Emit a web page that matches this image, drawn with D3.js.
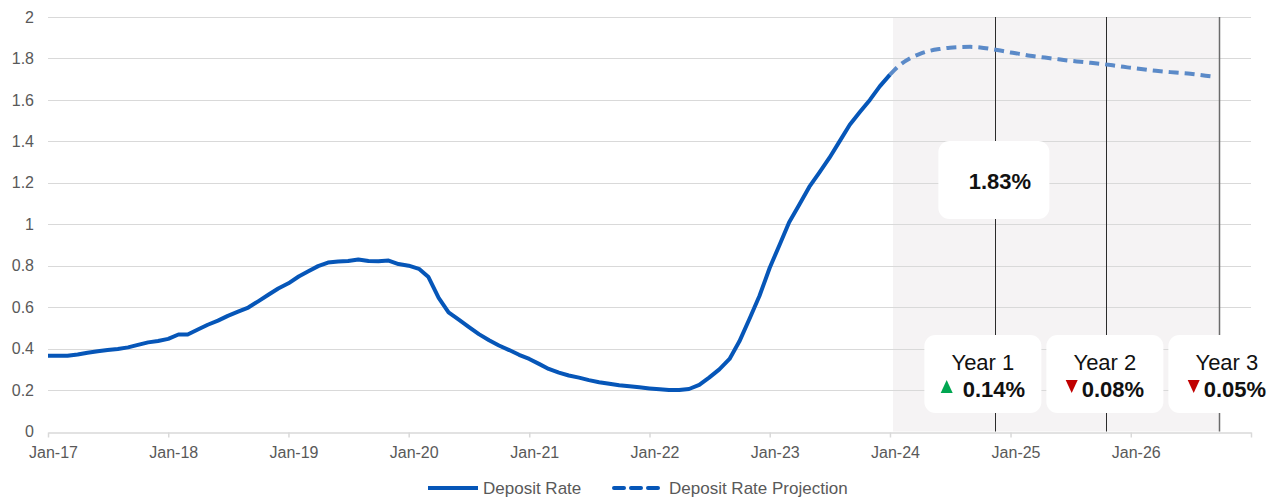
<!DOCTYPE html>
<html>
<head>
<meta charset="utf-8">
<script src="https://cdn.jsdelivr.net/npm/d3@7"></script>
<style>
  html, body { margin: 0; padding: 0; background: #fff; }
  svg { display: block; font-family: "Liberation Sans", Arial, Helvetica, sans-serif; }
</style>
</head>
<body>
<svg id="chart" width="1282" height="502"></svg>
<script>
// Monthly deposit rate (%), Jan 2017 – Jan 2024
const depositStart = "2017-01-01";
const depositRate = [
  0.366, 0.366, 0.365, 0.372, 0.380, 0.387, 0.393, 0.398, 0.406, 0.418, 0.430, 0.437,
  0.447, 0.468, 0.468, 0.492, 0.515, 0.535, 0.558, 0.578, 0.598, 0.628, 0.660, 0.690,
  0.715, 0.748, 0.772, 0.798, 0.815, 0.820, 0.823, 0.830, 0.823, 0.822, 0.825, 0.808,
  0.800, 0.785, 0.745, 0.645, 0.575, 0.540, 0.505, 0.470, 0.440, 0.415, 0.393, 0.370,
  0.350, 0.325, 0.302, 0.284, 0.270, 0.260, 0.248, 0.238, 0.230, 0.223, 0.218, 0.213,
  0.208, 0.204, 0.200, 0.200, 0.205, 0.225, 0.260, 0.300, 0.350, 0.435, 0.545, 0.655,
  0.790, 0.905, 1.010, 1.095, 1.180, 1.250, 1.320, 1.400, 1.480, 1.540, 1.600, 1.665,
  1.722
];

// Monthly projection (%), Jan 2024 – Sep 2026
const projectionStart = "2024-01-01";
const depositProjection = [
  1.722, 1.770, 1.800, 1.822, 1.837, 1.846, 1.852, 1.855, 1.856, 1.853, 1.846, 1.838,
  1.829, 1.821, 1.813, 1.807, 1.801, 1.795, 1.789, 1.784, 1.779, 1.774, 1.768, 1.761,
  1.755, 1.749, 1.743, 1.738, 1.734, 1.730, 1.726, 1.720, 1.714
];

// Axis ticks
const xTickDates = ["2017-01-01","2018-01-01","2019-01-01","2020-01-01","2021-01-01",
                    "2022-01-01","2023-01-01","2024-01-01","2025-01-01","2026-01-01"];
const xTickLabels = ["Jan-17","Jan-18","Jan-19","Jan-20","Jan-21",
                     "Jan-22","Jan-23","Jan-24","Jan-25","Jan-26"];
const yTicks = [0, 0.2, 0.4, 0.6, 0.8, 1, 1.2, 1.4, 1.6, 1.8, 2];

// Projection window and yearly checkpoints
const projectionWindow = ["2024-01-10", "2026-09-28"];
const yearMarkerDates = ["2024-11-16", "2025-10-19", "2026-09-26"];
const yearLabels = ["Year 1", "Year 2", "Year 3"];
const yearChanges = [0.14, -0.08, -0.05];
const headlineRate = 1.83;

const seriesNames = ["Deposit Rate", "Deposit Rate Projection"];

// ---------------------------------------------------------------
const parse = d3.utcParse("%Y-%m-%d");
const svg = d3.select("#chart");
const margin = { left: 48, right: 31, top: 17, bottom: 70.5 };
const W = 1282, H = 502;

const x = d3.scaleUtc()
  .domain([parse("2017-01-01"), parse("2027-01-01")])
  .range([margin.left, W - margin.right]);
const y = d3.scaleLinear()
  .domain([0, 2])
  .range([H - margin.bottom, margin.top]);

const actual = depositRate.map((v, i) => ({ date: d3.utcMonth.offset(parse(depositStart), i), value: v }));
const projected = depositProjection.map((v, i) => ({ date: d3.utcMonth.offset(parse(projectionStart), i), value: v }));

const textColor = "#595959";
const gridColor = "#d9d9d9";
const solidColor = "#0656b8";
const dashColor = "#5b8ac8";

// Projection shading
const [shadeA, shadeB] = projectionWindow.map(parse);
svg.append("rect")
  .attr("x", x(shadeA)).attr("y", y(2))
  .attr("width", x(shadeB) - x(shadeA))
  .attr("height", y(0) - y(2))
  .attr("fill", "#f5f3f4");

// Horizontal gridlines
svg.append("g")
  .selectAll("line")
  .data(yTicks.filter(d => d > 0))
  .join("line")
  .attr("x1", x.range()[0]).attr("x2", x.range()[1])
  .attr("y1", d => Math.round(y(d)) + 0.5).attr("y2", d => Math.round(y(d)) + 0.5)
  .attr("stroke", gridColor).attr("stroke-width", 1);

// Y axis labels
const yAxis = svg.append("g")
  .attr("transform", `translate(${margin.left},0)`)
  .call(d3.axisLeft(y).tickValues(yTicks).tickFormat(d3.format("~g")).tickSize(0).tickPadding(14));
yAxis.select(".domain").remove();
yAxis.selectAll("text")
  .attr("fill", textColor).attr("font-size", 16)
  .attr("font-family", '"Liberation Sans", Arial, sans-serif');

// X axis: labels sit in the middle of the first month of each year
const xAxis = svg.append("g")
  .attr("transform", `translate(0,${Math.round(y(0)) + 0.5})`)
  .call(d3.axisBottom(x)
    .tickValues(xTickDates.map(parse).concat([parse("2027-01-01")]))
    .tickFormat((d, i) => xTickLabels[i] || "")
    .tickSize(5).tickSizeOuter(0).tickPadding(9));
xAxis.select(".domain").attr("stroke", gridColor).attr("stroke-width", 1.5);
xAxis.selectAll(".tick line").attr("stroke", gridColor).attr("stroke-width", 1.5);
xAxis.selectAll("text")
  .attr("dx", 5)
  .attr("fill", textColor).attr("font-size", 16)
  .attr("font-family", '"Liberation Sans", Arial, sans-serif');

// Year checkpoint lines
svg.append("g")
  .selectAll("line")
  .data(yearMarkerDates.map(parse))
  .join("line")
  .attr("x1", d => Math.round(x(d)) + 0.5).attr("x2", d => Math.round(x(d)) + 0.5)
  .attr("y1", y(2)).attr("y2", y(0))
  .attr("stroke", (d, i) => i === 2 ? "#6b6b6b" : "#2b2b2b")
  .attr("stroke-width", (d, i) => i === 2 ? 1.5 : 1);

// Series lines
const lineActual = d3.line()
  .x(d => x(d.date)).y(d => y(d.value))
  .curve(d3.curveLinear);
const lineProjection = d3.line()
  .x(d => x(d.date)).y(d => y(d.value))
  .curve(d3.curveMonotoneX);

svg.append("path")
  .datum(actual)
  .attr("d", lineActual)
  .attr("fill", "none")
  .attr("stroke", solidColor)
  .attr("stroke-width", 4)
  .attr("stroke-linejoin", "round");

svg.append("path")
  .datum(projected)
  .attr("d", lineProjection)
  .attr("fill", "none")
  .attr("stroke", dashColor)
  .attr("stroke-width", 4)
  .attr("stroke-dasharray", "10 6");

// Headline callout
const mk = yearMarkerDates.map(d => x(parse(d)));
const head = svg.append("g");
const headX = mk[0] - 57, headW = 111;
head.append("rect")
  .attr("x", headX).attr("y", 141)
  .attr("width", headW).attr("height", 78)
  .attr("rx", 11).attr("fill", "#fff");
head.append("text")
  .attr("x", headX + headW / 2 + 6).attr("y", 188.5)
  .attr("text-anchor", "middle")
  .attr("font-size", 22).attr("font-weight", "bold").attr("fill", "#111")
  .text(d3.format(".2f")(headlineRate) + "%");

// Yearly change cards
const cardW = 117, cardH = 78, cardGap = 5, cardY = 335;
const cardX0 = mk[0] - 71;
const cards = svg.append("g")
  .selectAll("g")
  .data(yearLabels.map((label, i) => ({ label, change: yearChanges[i], i })))
  .join("g")
  .attr("transform", d => `translate(${cardX0 + d.i * (cardW + cardGap)},${cardY})`);

cards.append("rect")
  .attr("width", cardW).attr("height", cardH)
  .attr("rx", 11).attr("fill", "#fff");

cards.append("text")
  .attr("x", cardW / 2).attr("y", 34.5)
  .attr("text-anchor", "middle")
  .attr("font-size", 22).attr("fill", "#111")
  .text(d => d.label);

cards.each(function (d) {
  const g = d3.select(this);
  const up = d.change > 0;
  const label = g.append("text")
    .attr("y", 62)
    .attr("font-size", 22).attr("font-weight", "bold").attr("fill", "#111")
    .text(d3.format(".2f")(Math.abs(d.change)) + "%");
  const tw = label.node().getComputedTextLength();
  const triW = 12, gap = up ? 10 : 4;
  const total = triW + gap + tw;
  const left = cardW / 2 - total / 2;
  label.attr("x", left + triW + gap);
  const ty = 45, th = 13;
  const pts = up
    ? [[left, ty + th], [left + triW, ty + th], [left + triW / 2, ty]]
    : [[left, ty], [left + triW, ty], [left + triW / 2, ty + th]];
  g.append("path")
    .attr("d", d3.line()(pts) + "Z")
    .attr("fill", up ? "#00a651" : "#c00000");
});

// Legend
const legend = svg.append("g").attr("transform", "translate(0,488)");
legend.append("line")
  .attr("x1", 428).attr("x2", 478).attr("y1", 0).attr("y2", 0)
  .attr("stroke", solidColor).attr("stroke-width", 4);
legend.append("text")
  .attr("x", 483).attr("y", 5.5)
  .attr("font-size", 17).attr("fill", textColor)
  .text(seriesNames[0]);
legend.append("line")
  .attr("x1", 614).attr("x2", 658).attr("y1", 0).attr("y2", 0)
  .attr("stroke", solidColor).attr("stroke-width", 4)
  .attr("stroke-dasharray", "10 7")
  .attr("stroke-linecap", "round");
legend.append("text")
  .attr("x", 669).attr("y", 5.5)
  .attr("font-size", 17).attr("fill", textColor)
  .text(seriesNames[1]);
</script>
</body>
</html>
